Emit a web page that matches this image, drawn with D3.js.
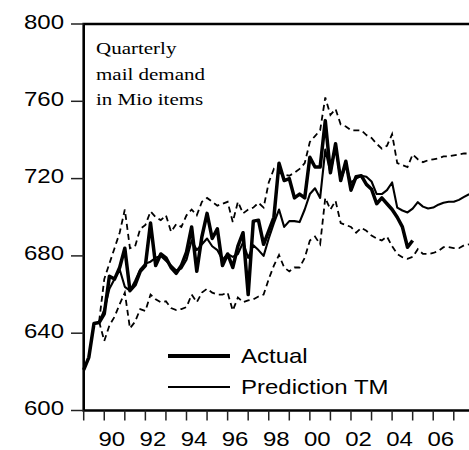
<!DOCTYPE html>
<html>
<head>
<meta charset="utf-8">
<script src="https://cdn.jsdelivr.net/npm/d3@7"></script>
<style>
  body { margin: 0; background: #fff; }
  svg { display: block; }
</style>
</head>
<body>
<div id="chart"></div>
<script>
// quarterly series, first value of each array belongs to the quarter named below
var ACTUAL_START = 1989;      // 1989 Q1
var PRED_START = 1989.75;     // 1989 Q4

var actual = [621, 627.5, 645, 645.5, 650, 669.5, 668, 674, 684, 662, 665, 672, 675, 697, 675, 681,
  679, 674, 671, 675, 682, 695, 672, 690, 702, 689, 694, 675, 681, 674, 685, 692,
  660, 698, 698.5, 686, 693, 700, 728, 719, 720, 710, 712, 710, 731, 726, 726, 750,
  723, 738, 719, 729, 714, 721, 721.5, 717, 714.5, 707, 710, 707, 704, 700, 695, 684.5, 688];

var prediction = [645.5, 652, 663, 668, 673, 664, 662, 667, 673, 676, 677, 679, 680, 677.5, 675, 672.5,
  673.5, 678, 688, 683, 686, 689, 685, 683, 678, 681, 679.5, 681, 687, 679, 685.5, 683,
  680, 689, 697, 704, 695, 698, 698, 697.5, 704, 712, 715, 710, 735, 723, 737, 719,
  727, 718, 720, 721.5, 721, 718.5, 712, 712, 714, 718, 705, 703.5, 702.5, 704.5, 707.8, 705.5,
  704.5, 705, 706.5, 707.5, 708, 708, 709, 710.5, 712];

var upper = [646, 668, 676, 684, 692, 704, 684, 685, 694, 696, 703, 700, 698.5, 701, 692.5, 696.5,
  695, 701, 704, 701, 708, 710, 708, 706, 707, 708, 697.5, 708, 702, 704, 705, 707.5,
  705, 718, 725, 723, 722, 721.5, 723, 725, 728, 739, 742, 745, 762, 753, 756, 748,
  747, 745, 745, 745, 742.5, 741, 738, 735.5, 737, 743, 728, 727, 726, 732.5, 730, 728.5,
  729.5, 730, 730.5, 731.5, 731.5, 732, 732.5, 733, 733];

var lower = [646, 636, 644, 648.5, 655, 661, 642.5, 646, 652.5, 651.5, 660, 657.5, 656, 656.5, 653, 652,
  652.5, 653.5, 660, 656, 661, 663, 661, 660, 660, 661, 651.7, 658.5, 656, 657, 657.5, 659,
  660, 668, 675, 680.5, 674, 672, 674, 674, 679, 688, 690, 686, 710, 704, 708.5, 697,
  696, 695, 692, 694.5, 693, 690.5, 689, 688, 690, 685, 681, 679.3, 678.5, 679.5, 683.5, 681,
  681, 681.5, 682.5, 684.5, 684.5, 684, 684, 685.5, 686];

var yTicks = [600, 640, 680, 720, 760, 800];
var xTickYears = [1989, 1990, 1991, 1992, 1993, 1994, 1995, 1996, 1997, 1998, 1999,
  2000, 2001, 2002, 2003, 2004, 2005, 2006, 2007];
var xLabelYears = [1990, 1992, 1994, 1996, 1998, 2000, 2002, 2004, 2006];
var xLabels = ["90", "92", "94", "96", "98", "00", "02", "04", "06"];
var annotation = ["Quarterly", "mail demand", "in Mio items"];
var legendNames = ["Actual", "Prediction TM"];

var W = 469, H = 450;
var STRETCH = 1.2; // text in the picture is a bit wider than normal

var svg = d3.select("#chart").append("svg")
  .attr("width", W)
  .attr("height", H);

// scales
var x = d3.scaleLinear().domain([1989, 2007]).range([83.7, 83.7 + 18 * 20.56]);
var y = d3.scaleLinear().domain([600, 800]).range([410.5, 24]);

function toSeries(arr, start) {
  return arr.map(function(v, i) { return { t: start + i / 4, v: v }; });
}

var line = d3.line()
  .x(function(d) { return x(d.t); })
  .y(function(d) { return y(d.v); });

// bands
[upper, lower].forEach(function(s) {
  svg.append("path")
    .datum(toSeries(s, PRED_START))
    .attr("fill", "none")
    .attr("stroke", "#000")
    .attr("stroke-width", 1.8)
    .attr("stroke-dasharray", "6,4")
    .attr("d", line);
});

// prediction
svg.append("path")
  .datum(toSeries(prediction, PRED_START))
  .attr("fill", "none")
  .attr("stroke", "#000")
  .attr("stroke-width", 2.1)
  .attr("stroke-linejoin", "round")
  .attr("d", line);

// actual
svg.append("path")
  .datum(toSeries(actual, ACTUAL_START))
  .attr("fill", "none")
  .attr("stroke", "#000")
  .attr("stroke-width", 3.5)
  .attr("stroke-linejoin", "round")
  .attr("d", line);

// frame (right side runs off the picture)
svg.append("path")
  .attr("fill", "none")
  .attr("stroke", "#000")
  .attr("stroke-width", 2.6)
  .attr("d", "M" + (W + 5) + "," + y(800) + "H" + x(1989) + "V" + y(600) + "H" + (W + 5));

// y axis ticks + labels
var gy = svg.append("g");
gy.selectAll("line").data(yTicks).enter().append("line")
  .attr("x1", 71).attr("x2", x(1989))
  .attr("y1", function(d) { return y(d); })
  .attr("y2", function(d) { return y(d); })
  .attr("stroke", "#222").attr("stroke-width", 1.5);
gy.selectAll("text").data(yTicks).enter().append("text")
  .attr("transform", function(d) { return "translate(64," + (y(d) + 4.5) + ") scale(" + STRETCH + ",1)"; })
  .attr("text-anchor", "end")
  .style("font-family", "'Liberation Sans', Arial, sans-serif")
  .style("font-size", "20px")
  .text(function(d) { return d; });

// x axis ticks + labels
var gx = svg.append("g");
gx.selectAll("line").data(xTickYears).enter().append("line")
  .attr("x1", function(d) { return x(d); })
  .attr("x2", function(d) { return x(d); })
  .attr("y1", y(600)).attr("y2", y(600) + 10)
  .attr("stroke", "#222").attr("stroke-width", 1.5);
gx.selectAll("text").data(xLabelYears).enter().append("text")
  .attr("transform", function(d) { return "translate(" + (x(d) + 7.5) + ",445.5) scale(" + STRETCH + ",1)"; })
  .attr("text-anchor", "middle")
  .style("font-family", "'Liberation Sans', Arial, sans-serif")
  .style("font-size", "20px")
  .text(function(d, i) { return xLabels[i]; });

// annotation
svg.selectAll(".note").data(annotation).enter().append("text")
  .attr("class", "note")
  .attr("transform", function(d, i) { return "translate(96," + (54 + i * 25.5) + ") scale(" + STRETCH + ",1)"; })
  .style("font-family", "'Liberation Serif', 'Times New Roman', serif")
  .style("font-size", "17.5px")
  .text(function(d) { return d; });

// legend
var legend = svg.append("g");
var legW = [4, 2];
var legY = [356, 387];
legendNames.forEach(function(name, i) {
  legend.append("line")
    .attr("x1", 168).attr("x2", 230)
    .attr("y1", legY[i]).attr("y2", legY[i])
    .attr("stroke", "#000").attr("stroke-width", legW[i]);
  legend.append("text")
    .attr("transform", "translate(241," + (legY[i] + 7) + ") scale(" + STRETCH + ",1)")
    .style("font-family", "'Liberation Sans', Arial, sans-serif")
    .style("font-size", "20px")
    .text(name);
});
</script>
</body>
</html>
